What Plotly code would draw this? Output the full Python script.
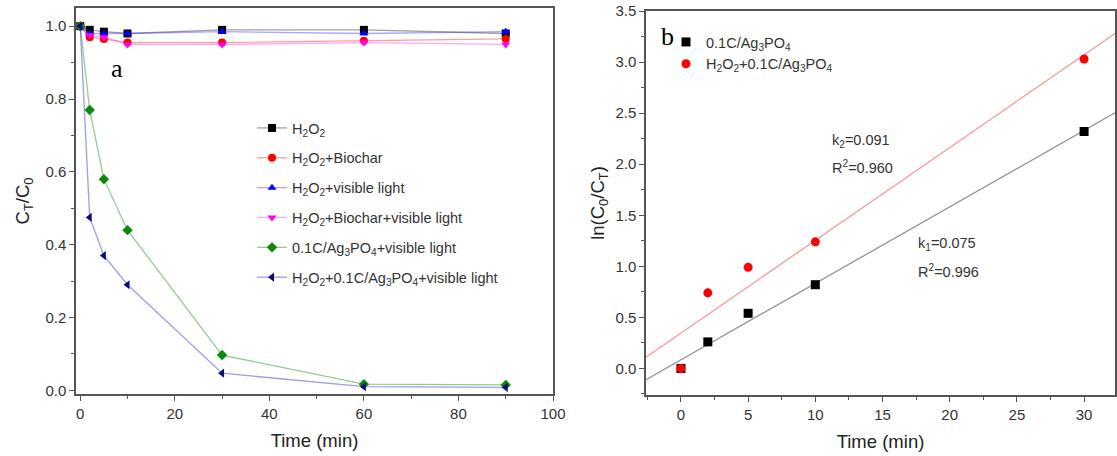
import numpy as np
import plotly.graph_objects as go

# ---------------- data ----------------
time_a = [0, 2, 5, 10, 30, 60, 90]
h2o2 = [1.0, 0.99, 0.985, 0.98, 0.99, 0.99, 0.98]
h2o2_biochar = [1.0, 0.97, 0.965, 0.955, 0.955, 0.96, 0.965]
h2o2_light = [1.0, 0.98, 0.98, 0.98, 0.985, 0.98, 0.985]
h2o2_biochar_light = [1.0, 0.975, 0.97, 0.95, 0.95, 0.955, 0.95]
cag_light = [1.0, 0.77, 0.58, 0.44, 0.097, 0.017, 0.015]
h2o2_cag_light = [1.0, 0.475, 0.37, 0.29, 0.047, 0.01, 0.008]

names_a = [
    "H<sub>2</sub>O<sub>2</sub>",
    "H<sub>2</sub>O<sub>2</sub>+Biochar",
    "H<sub>2</sub>O<sub>2</sub>+visible light",
    "H<sub>2</sub>O<sub>2</sub>+Biochar+visible light",
    "0.1C/Ag<sub>3</sub>PO<sub>4</sub>+visible light",
    "H<sub>2</sub>O<sub>2</sub>+0.1C/Ag<sub>3</sub>PO<sub>4</sub>+visible light",
]

time_b = [0, 2, 5, 10, 30]
ln_cag = [0.0, 0.26, 0.54, 0.82, 2.32]
ln_h2o2_cag = [0.0, 0.74, 0.99, 1.24, 3.03]
names_b = ["0.1C/Ag<sub>3</sub>PO<sub>4</sub>",
           "H<sub>2</sub>O<sub>2</sub>+0.1C/Ag<sub>3</sub>PO<sub>4</sub>"]

# ---------------- styles ----------------
W, H = 1117, 456
FONT = "Liberation Sans, Arial, sans-serif"
SERIF = "Liberation Serif, Times New Roman, serif"
AXC = "#555555"
TXT = "#333333"

series_a = [h2o2, h2o2_biochar, h2o2_light, h2o2_biochar_light, cag_light, h2o2_cag_light]
marker_cols = ["#000000", "#ff0000", "#0000ff", "#ff00ff", "#0a8a0a", "#0a0a80"]
line_cols = ["rgba(80,80,80,0.55)", "rgba(255,60,60,0.5)", "rgba(60,60,255,0.45)",
             "rgba(255,60,255,0.45)", "rgba(60,160,60,0.55)", "rgba(60,60,200,0.5)"]
symbols = ["square", "circle", "triangle-up", "triangle-down", "diamond", "triangle-left"]

fig = go.Figure()

for i, (ys, nm) in enumerate(zip(series_a, names_a)):
    fig.add_trace(go.Scatter(
        x=time_a, y=ys, name=nm, mode="lines+markers",
        line=dict(color=line_cols[i], width=1.3),
        marker=dict(color=marker_cols[i], symbol=symbols[i], size=8, line=dict(width=0)),
        xaxis="x", yaxis="y", legend="legend", legendgroup=f"a{i}",
    ))

# panel b : linear fits computed from the data
XB = [-2.6, 32.3]
fit_cols = ["rgba(120,120,120,0.8)", "rgba(240,120,120,0.75)"]
for ys, fc in zip([ln_cag, ln_h2o2_cag], fit_cols):
    k, b = np.polyfit(time_b, ys, 1)
    xs = np.array(XB)
    fig.add_trace(go.Scatter(x=xs, y=k * xs + b, mode="lines", showlegend=False,
                             line=dict(color=fc, width=1.3), xaxis="x2", yaxis="y2"))

for ys, nm, col, sym in zip([ln_cag, ln_h2o2_cag], names_b, ["#000000", "#ff0000"], ["square", "circle"]):
    fig.add_trace(go.Scatter(x=time_b, y=ys, name=nm, mode="markers",
                             marker=dict(color=col, symbol=sym, size=9, line=dict(width=0)),
                             xaxis="x2", yaxis="y2", legend="legend2"))

def ax(**kw):
    d = dict(showline=True, mirror=True, linecolor=AXC, linewidth=1.5,
             ticks="outside", ticklen=5, tickwidth=1.2, tickcolor=AXC,
             showgrid=False, zeroline=False, automargin=False,
             tickfont=dict(family=FONT, size=15, color=TXT),
             title_font=dict(family=FONT, size=18.5, color="#222222"))
    d.update(kw)
    return d

ann_font = dict(family=FONT, size=14.5, color=TXT)

fig.update_layout(
    width=W, height=H, margin=dict(l=0, r=0, t=0, b=0),
    paper_bgcolor="white", plot_bgcolor="white",
    font=dict(family=FONT, size=14, color=TXT),
    xaxis=ax(domain=[76 / W, 553 / W], range=[-0.9, 100], tickvals=[0, 20, 40, 60, 80, 100],
             minor=dict(ticks="outside", ticklen=3, tickcolor=AXC, dtick=10, tick0=0),
             title=dict(text="Time (min)", standoff=13), anchor="y"),
    yaxis=ax(domain=[(H - 394) / H, (H - 8) / H], range=[-0.01, 1.05],
             tickvals=[0, 0.2, 0.4, 0.6, 0.8, 1.0], tickformat=".1f",
             minor=dict(ticks="outside", ticklen=3, tickcolor=AXC, dtick=0.1, tick0=0),
             title=dict(text="C<sub>T</sub>/C<sub>0</sub>", standoff=11), anchor="x"),
    xaxis2=ax(domain=[646 / W, 1115 / W], range=XB, tickvals=[0, 5, 10, 15, 20, 25, 30],
              minor=dict(ticks="outside", ticklen=3, tickcolor=AXC, dtick=2.5, tick0=0),
              title=dict(text="Time (min)", standoff=13), anchor="y2"),
    yaxis2=ax(domain=[(H - 395) / H, (H - 11) / H], range=[-0.26, 3.5],
              tickvals=[0, 0.5, 1.0, 1.5, 2.0, 2.5, 3.0, 3.5], tickformat=".1f",
              minor=dict(ticks="outside", ticklen=3, tickcolor=AXC, dtick=0.25, tick0=0),
              title=dict(text="ln(C<sub>0</sub>/C<sub>T</sub>)", standoff=6), anchor="x2"),
    legend=dict(x=252 / W, y=(H - 112) / H, xanchor="left", yanchor="top",
                bgcolor="rgba(0,0,0,0)", tracegroupgap=8,
                font=dict(family=FONT, size=14.5, color=TXT)),
    legend2=dict(x=666 / W, y=(H - 26) / H, xanchor="left", yanchor="top",
                 bgcolor="rgba(0,0,0,0)", tracegroupgap=0,
                 font=dict(family=FONT, size=14.5, color=TXT)),
    annotations=[
        dict(text="a", x=7.8, y=0.885, xref="x", yref="y", showarrow=False,
             xanchor="center", yanchor="middle",
             font=dict(family=SERIF, size=26, color="#000000")),
        dict(text="b", xref="paper", yref="paper", x=667 / W, y=(H - 37) / H, showarrow=False,
             xanchor="center", yanchor="middle",
             font=dict(family=SERIF, size=26, color="#000000")),
        dict(text="k<sub>2</sub>=0.091", x=11.1, y=2.23, xref="x2", yref="y2", xanchor="left",
             yanchor="middle", showarrow=False, font=ann_font),
        dict(text="R<sup>2</sup>=0.960", x=11.1, y=1.97, xref="x2", yref="y2", xanchor="left",
             yanchor="middle", showarrow=False, font=ann_font),
        dict(text="k<sub>1</sub>=0.075", x=17.5, y=1.22, xref="x2", yref="y2", xanchor="left",
             yanchor="middle", showarrow=False, font=ann_font),
        dict(text="R<sup>2</sup>=0.996", x=17.5, y=0.957, xref="x2", yref="y2", xanchor="left",
             yanchor="middle", showarrow=False, font=ann_font),
    ],
)

fig.write_html("out.html", config={"displayModeBar": False},
               post_script="document.body.style.margin='0px';")
